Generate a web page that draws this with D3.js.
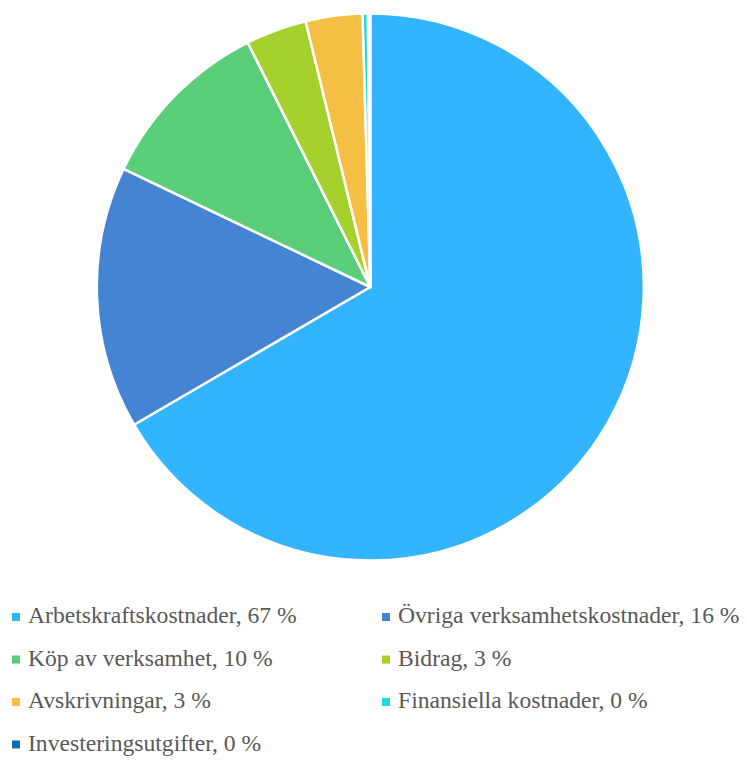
<!DOCTYPE html>
<html><head><meta charset="utf-8">
<script src="https://cdn.jsdelivr.net/npm/d3@7"></script>
<style>body{margin:0;background:#fff}svg{display:block}</style>
</head><body>
<svg id="c" width="747" height="760"></svg>
<script>
const categories = ["Arbetskraftskostnader","Övriga verksamhetskostnader","Köp av verksamhet","Bidrag","Avskrivningar","Finansiella kostnader","Investeringsutgifter"];
const values = [66.6, 15.5, 10.5, 3.6, 3.35, 0.31, 0.14];
const percentLabels = ["67 %","16 %","10 %","3 %","3 %","0 %","0 %"];
const colors = ["#32B4FE","#4584D3","#5BCE7A","#A6D12C","#F4BF43","#1ED8DC","#0D6DAD"];

// pick first installed serif font
const ctx = document.createElement("canvas").getContext("2d");
function has(f){
  const s="Arbetskraftskostnader WMil";
  ctx.font="40px monospace"; const a=ctx.measureText(s).width;
  ctx.font=`40px "${f}", monospace`; const b=ctx.measureText(s).width;
  return Math.abs(a-b)>0.5;
}
const serifCandidates = ["Liberation Serif","DejaVu Serif","Times New Roman","Noto Serif","FreeSerif"];
const fontFamily = (serifCandidates.find(has) ? `"${serifCandidates.find(has)}"` : "serif");

const svg = d3.select("#c");
const cx = 370.3, cy = 287, R = 273.5;
const pie = d3.pie().sort(null).value(d => d)(values);
const arc = d3.arc().innerRadius(0).outerRadius(R);
const g = svg.append("g").attr("transform", `translate(${cx},${cy})`);
g.selectAll("path").data(pie).join("path")
  .attr("d", arc)
  .attr("fill", (d,i) => colors[i])
  .attr("stroke", "#fff").attr("stroke-width", 2.5).attr("stroke-linejoin","round");

// legend
const col = d3.scaleOrdinal().domain([0,1]).range([12, 382]);
const row = d3.scaleLinear().domain([0,1]).range([623, 665.5]);
const lg = svg.append("g");
const items = lg.selectAll("g").data(categories).join("g")
  .attr("transform", (d,i) => `translate(${col(i%2)},${row(Math.floor(i/2))})`);
items.append("rect").attr("x",0).attr("y",-10).attr("width",8).attr("height",8)
  .attr("fill",(d,i)=>colors[i]);
const texts = items.append("text").attr("x",16).attr("y",0)
  .style("font-family", fontFamily).attr("fill","#595959")
  .attr("font-size",20)
  .text((d,i)=> `${d}, ${percentLabels[i]}`);
const w = texts.node().getComputedTextLength();
texts.attr("font-size", 20 * 269 / w);
</script>
</body></html>
